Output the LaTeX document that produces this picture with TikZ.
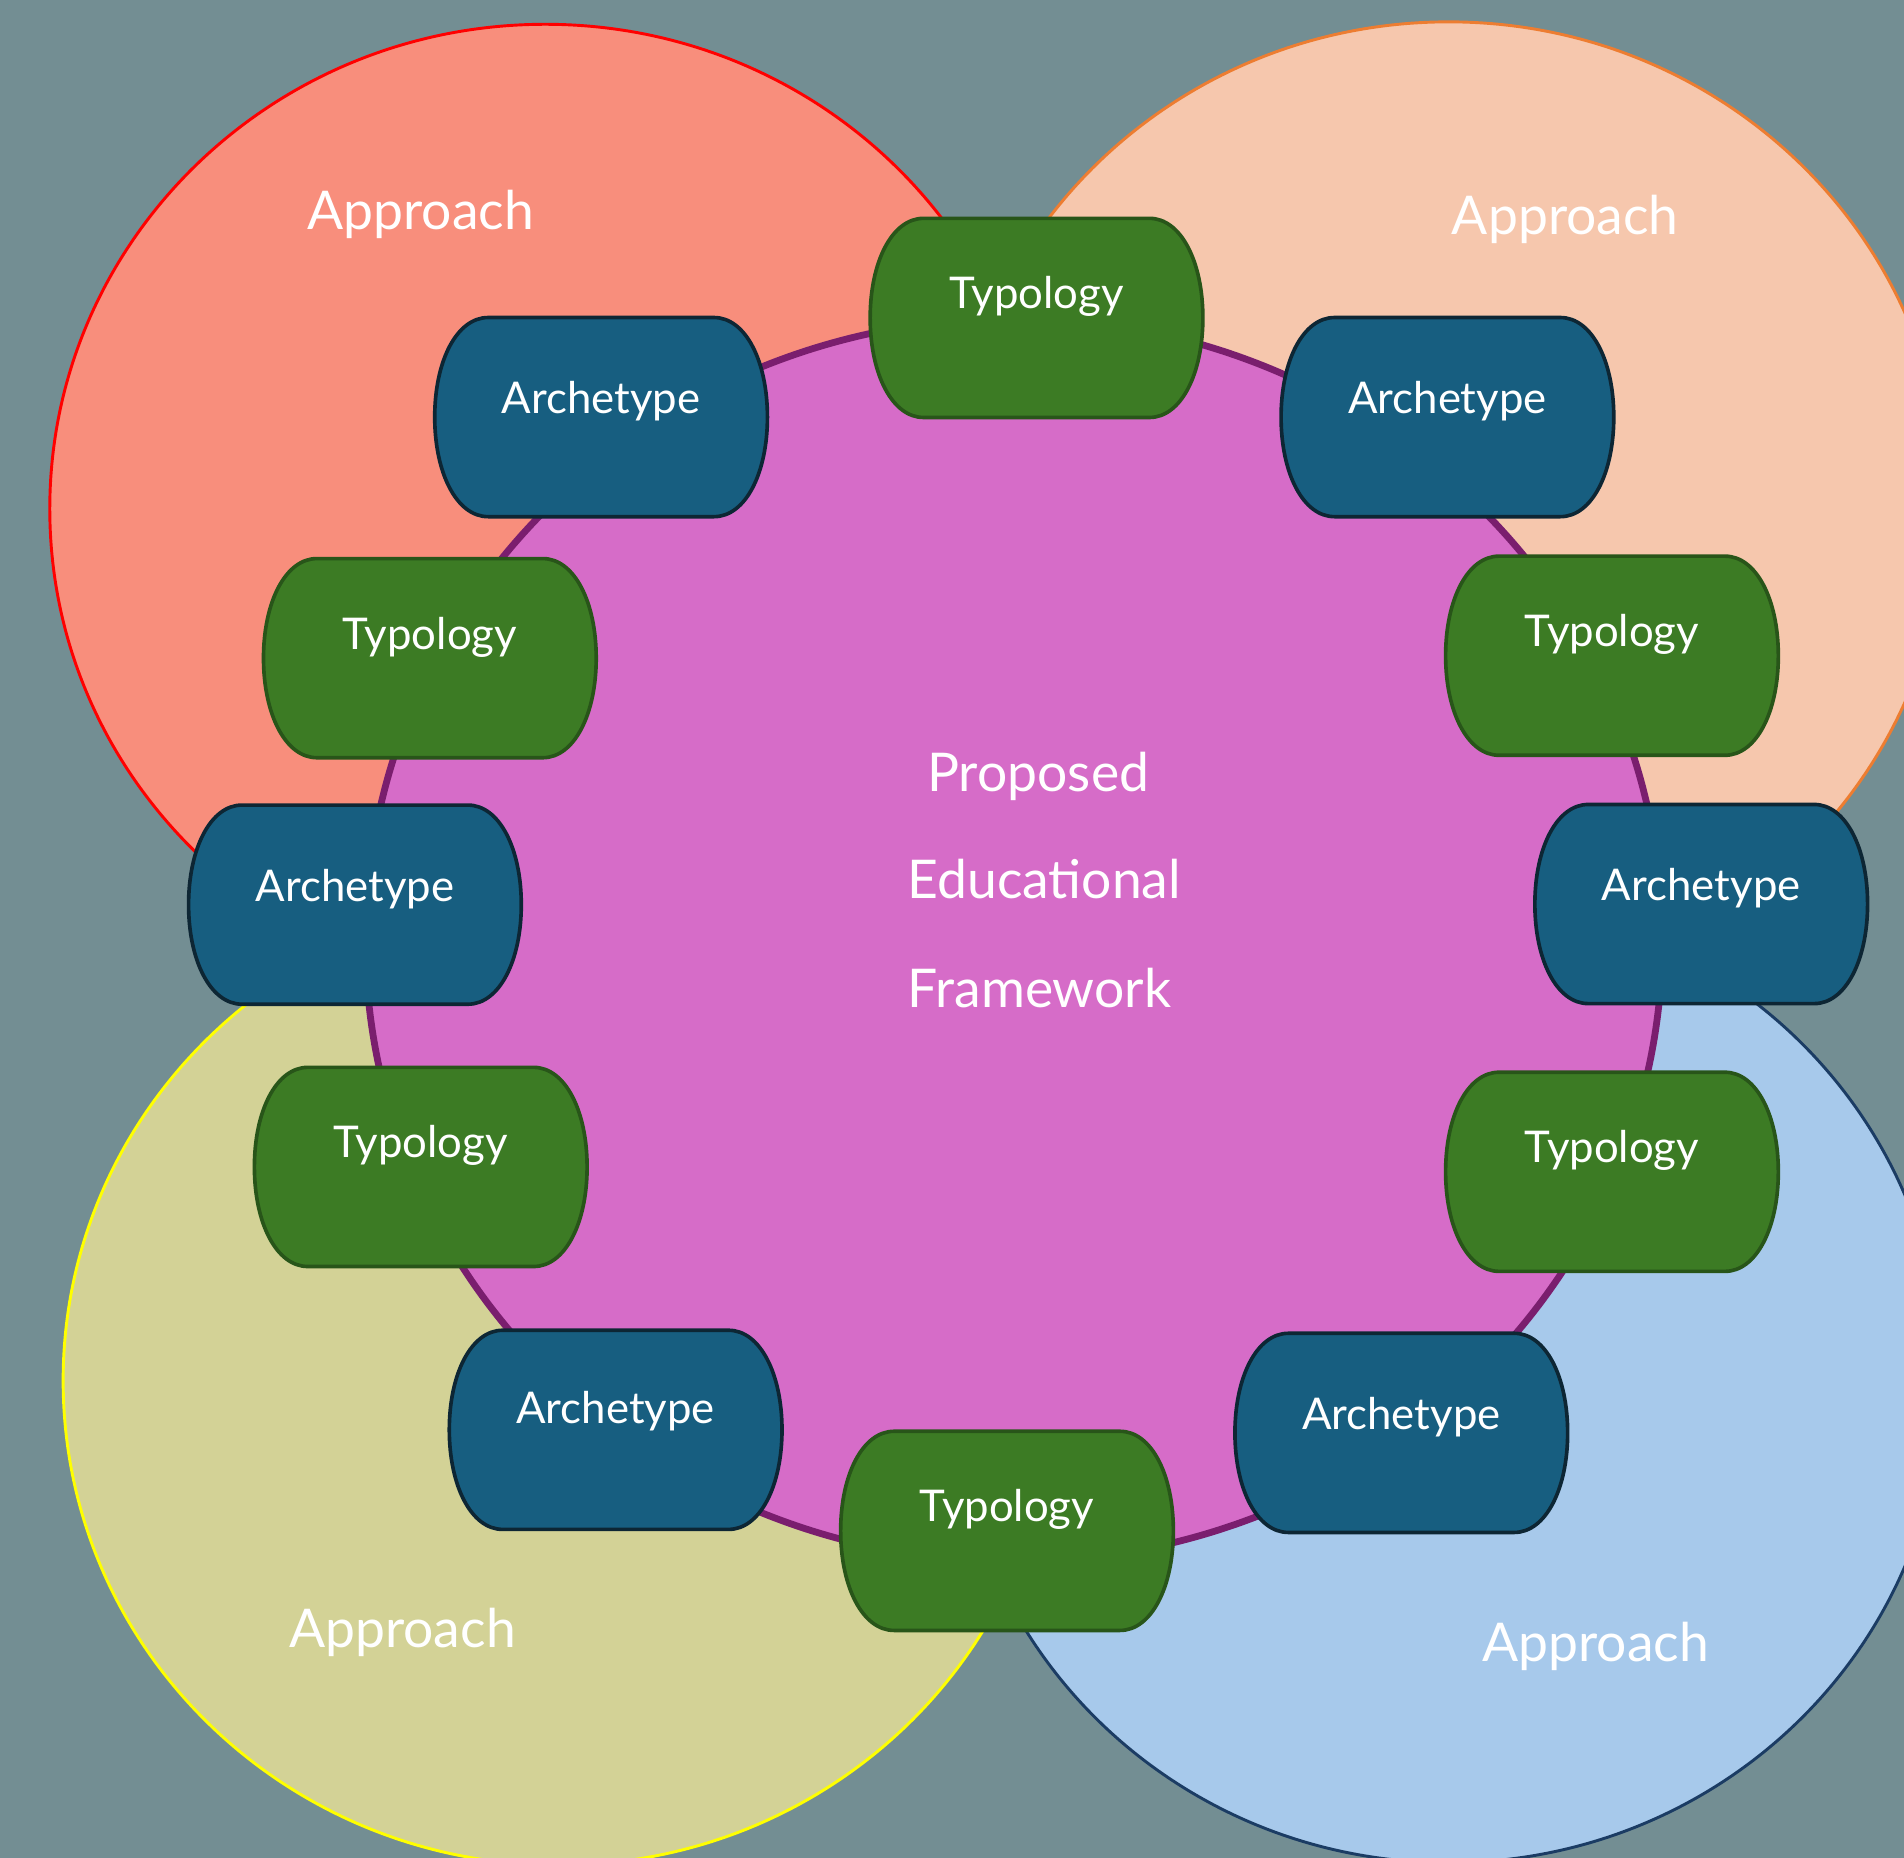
\documentclass[tikz,border=0pt]{standalone}
\usepackage{fontspec}
\setmainfont{Lato}
\definecolor{bgc}{HTML}{738E93}
\definecolor{redf}{HTML}{F88E7C}
\definecolor{redd}{HTML}{FF0000}
\definecolor{orgf}{HTML}{F6C7AD}
\definecolor{orgd}{HTML}{ED7D31}
\definecolor{yelf}{HTML}{D3D296}
\definecolor{yeld}{HTML}{FFFF00}
\definecolor{bluf}{HTML}{A7C9EB}
\definecolor{blud}{HTML}{1B3C64}
\definecolor{purf}{HTML}{D66CC8}
\definecolor{purd}{HTML}{7A1E6E}
\definecolor{archf}{HTML}{175E80}
\definecolor{archd}{HTML}{0D2634}
\definecolor{typf}{HTML}{3C7B24}
\definecolor{typd}{HTML}{285519}
\tikzset{
  appcircle/.style={line width=1.2pt},
  archbox/.style={fill=archf, draw=archd, line width=1.5pt},
  typbox/.style={fill=typf, draw=typd, line width=1.5pt},
  boxtext/.style={text=white, font=\fontsize{18}{20}\selectfont, anchor=base, inner sep=0pt},
  bigtext/.style={text=white, font=\fontsize{22}{26}\selectfont, anchor=base, inner sep=0pt},
}
% #1 name, #2 x, #3 y, #4 text, #5 style, #6 baseline offset
\newcommand\barrel[6]{%
  \filldraw[#5, shift={(#2,#3)}] (-93,-82) -- (93,-82)
    .. controls (119,-82) and (137,-46) .. (137,0)
    .. controls (137,46) and (119,82) .. (93,82) -- (-93,82)
    .. controls (-119,82) and (-137,46) .. (-137,0)
    .. controls (-137,-46) and (-119,-82) .. (-93,-82) -- cycle;
  \node[boxtext] (#1) at (#2,#3-#6) {#4};
}
\begin{document}
\begin{tikzpicture}[x=0.5pt, y=-0.5pt]
  \useasboundingbox (0,0) rectangle (1568,1530);
  \clip (0,0) rectangle (1568,1530);
  \fill[bgc] (0,0) rectangle (1568,1530);
  % approach circles
  \filldraw[appcircle, fill=redf, draw=redd] (449,419) ellipse [x radius=408, y radius=399];
  \filldraw[appcircle, fill=orgf, draw=orgd] (1193,418) ellipse [x radius=410, y radius=400];
  \filldraw[appcircle, fill=yelf, draw=yeld] (460,1137) ellipse [x radius=408, y radius=399];
  \filldraw[appcircle, fill=bluf, draw=blud] (1193,1137) ellipse [x radius=407, y radius=397];
  \node[bigtext] (ap1) at (346.5,189) {Approach};
  \node[bigtext] (ap2) at (1289,193.5) {Approach};
  \node[bigtext] (ap3) at (331.5,1356.6) {Approach};
  \node[bigtext] (ap4) at (1314,1368.4) {Approach};
  % central circle
  \filldraw[fill=purf, draw=purd, line width=2.8pt] (835,774) ellipse [x radius=534, y radius=512];
  \node[bigtext] (c1) at (855,652) {Proposed};
  \node[bigtext] (c2) at (860,740) {Educational};
  \node[bigtext] (c3) at (856,830) {Framework};
  % boxes
  \barrel{t1}{853.6}{261.8}{Typology}{typbox}{7.5}
  \barrel{a1}{495}{343.5}{Archetype}{archbox}{3}
  \barrel{a2}{1192}{343.5}{Archetype}{archbox}{3}
  \barrel{t2}{354}{542}{Typology}{typbox}{7.5}
  \barrel{t3}{1327.5}{540}{Typology}{typbox}{7.5}
  \barrel{a3}{292.3}{745}{Archetype}{archbox}{3}
  \barrel{a4}{1401}{744.5}{Archetype}{archbox}{3}
  \barrel{t4}{346.5}{961}{Typology}{typbox}{7.5}
  \barrel{t5}{1327.5}{965}{Typology}{typbox}{7.5}
  \barrel{a5}{507}{1177.5}{Archetype}{archbox}{5}
  \barrel{a6}{1154}{1180}{Archetype}{archbox}{3}
  \barrel{t6}{829.3}{1260.7}{Typology}{typbox}{7.5}
\end{tikzpicture}
\end{document}
